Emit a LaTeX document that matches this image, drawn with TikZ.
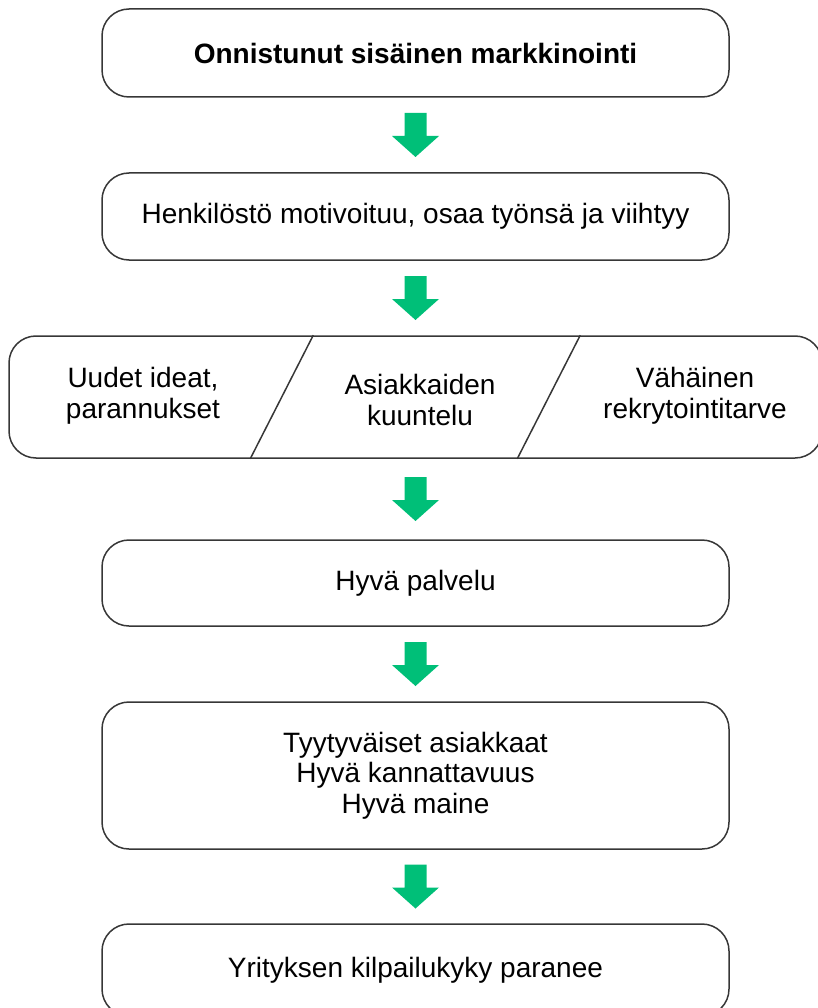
\documentclass[tikz,border=0pt]{standalone}
\usepackage{fontspec}
\setmainfont{Liberation Sans}
\usetikzlibrary{calc}
\definecolor{arrowgreen}{RGB}{0,191,120}
\definecolor{linegray}{RGB}{55,55,55}
\tikzset{
  boxline/.style={draw=linegray, line width=1.5pt},
  flowbox/.style={boxline, rounded corners=27pt, minimum width=627pt, inner sep=0pt, align=center,
                  font=\fontsize{28}{30.5}\selectfont},
  plaintext/.style={inner sep=0pt, align=center, font=\fontsize{28}{30.5}\selectfont},
  greenfill/.style={fill=arrowgreen, draw=none}
}
\newcommand\blockarrow[3]{%
  \coordinate (#3) at ($(#1.south)!0.5!(#2.north)$);
  \fill[greenfill] ([shift={(-11,-22)}]#3) -- ([shift={(11,-22)}]#3) -- ([shift={(11,1)}]#3)
     -- ([shift={(23.5,1)}]#3) -- ([shift={(0,22)}]#3) -- ([shift={(-23.5,1)}]#3)
     -- ([shift={(-11,1)}]#3) -- cycle;}
\begin{document}
\begin{tikzpicture}[x=1pt,y=-1pt]
\useasboundingbox (0,0) rectangle (818,1008);
\clip (0,0) rectangle (818,1008);
\node[flowbox, minimum height=88pt] (b1) at (415.5,53) {\textbf{Onnistunut sisäinen markkinointi}};
\node[flowbox, minimum height=87pt] (b2) at (415.5,216.5) {Henkilöstö motivoituu, osaa työnsä ja viihtyy};
\node[flowbox, minimum width=813pt, minimum height=122pt] (b3) at (415.5,397) {};
\draw[boxline] ($(b3.north west)+(305,0)$) -- ($(b3.south west)+(242,0)$);
\draw[boxline] ($(b3.north west)+(572,0)$) -- ($(b3.south west)+(509,0)$);
\node[plaintext] (t31) at (143,396) {Uudet ideat,\\parannukset};
\node[plaintext] (t32) at (420,400) {Asiakkaiden\\kuuntelu};
\node[plaintext] (t33) at (695,396) {Vähäinen\\rekrytointitarve};
\node[flowbox, minimum height=86pt] (b4) at (415.5,583) {Hyvä palvelu};
\node[flowbox, minimum height=147pt] (b5) at (415.5,775.5) {Tyytyväiset asiakkaat\\Hyvä kannattavuus\\Hyvä maine};
\node[flowbox, minimum height=92pt] (b6) at (415.5,970) {Yrityksen kilpailukyky paranee};
\blockarrow{b1}{b2}{m1}
\blockarrow{b2}{b3}{m2}
\blockarrow{b3}{b4}{m3}
\blockarrow{b4}{b5}{m4}
\blockarrow{b5}{b6}{m5}
\end{tikzpicture}
\end{document}
